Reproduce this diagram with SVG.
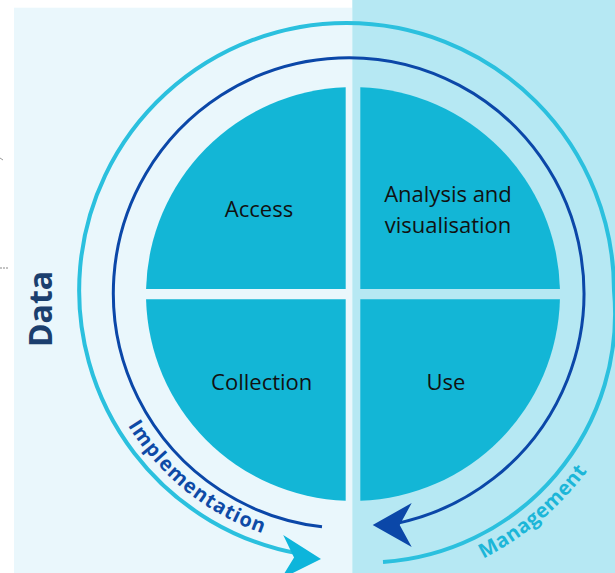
<svg xmlns="http://www.w3.org/2000/svg" width="615" height="573" viewBox="0 0 615 573">
<style>
.q{fill:#13B6D6}
.lbl{font-family:"Open Sans","Noto Sans","Liberation Sans",sans-serif;font-size:22px;fill:#111;text-anchor:middle}
.arc{font-family:"Open Sans","Noto Sans","Liberation Sans",sans-serif;font-size:20px;font-weight:bold}
.ring{fill:none}
</style>
<defs>
<path id="impPath" d="M105,378.4 A257,257 0 0 0 324.1,546.5"/>
<path id="mgmtPath" d="M424.4,581.2 A301,301 0 0 0 619.3,417.7"/>
<path id="arrowHead" d="M0,0 L-39,-22 L-27,0 L-39,22 Z"/>
</defs>
<rect x="0" y="0" width="615" height="573" fill="#FFFFFF"/>
<rect id="panel-left" x="14" y="7.7" width="338.3" height="565.3" fill="#EAF7FC"/>
<rect id="panel-right" x="352.3" y="0" width="262.7" height="573" fill="#B6E8F3"/>
<line x1="0" y1="268" x2="9" y2="268" stroke="#888" stroke-width="1" stroke-dasharray="2 1"/>
<line x1="0" y1="158" x2="3" y2="160" stroke="#999" stroke-width="1"/>
<g id="connectors">
<path class="ring" d="M300,553.9 A267.5,267.5 0 0 1 346.5,23 A267.5,267.5 0 0 1 614,290.5 A249,249 0 0 1 383,562" stroke="#2BC0DE" stroke-width="4"/>
<use href="#arrowHead" transform="translate(321,559) rotate(3)" fill="#0DB5DB"/>
<path class="ring" d="M322,526.8 A235.3,235.3 0 1 1 395,523.7" stroke="#0B47A8" stroke-width="3"/>
<use href="#arrowHead" transform="translate(372.7,525) rotate(180)" fill="#0B47A8"/>
</g>
<g id="node-access">
<path class="q" d="M345.7,289 V87.13 A207,207 0 0 0 146.06,289 Z"/>
<text class="lbl" x="259" y="216.7">Access</text>
</g>
<g id="node-analysis">
<path class="q" d="M360.3,289 H559.94 A207,207 0 0 0 360.3,87.13 Z"/>
<text class="lbl" x="448" y="201.7">Analysis and</text>
<text class="lbl" x="448" y="232.7">visualisation</text>
</g>
<g id="node-collection">
<path class="q" d="M345.7,299.3 H146.07 A207,207 0 0 0 345.7,500.87 Z"/>
<text class="lbl" x="261.7" y="390">Collection</text>
</g>
<g id="node-use">
<path class="q" d="M360.3,299.3 V500.87 A207,207 0 0 0 559.93,299.3 Z"/>
<text class="lbl" x="446" y="390">Use</text>
</g>
<g id="label-data">
<text transform="translate(51.7,309) rotate(-90)" font-family="'Open Sans','Noto Sans','Liberation Sans',sans-serif" font-size="32" font-weight="bold" fill="#1B3F6E" text-anchor="middle">Data</text>
</g>
<g id="label-implementation">
<text class="arc" fill="#0E4AA6" text-anchor="middle" letter-spacing="1"><textPath href="#impPath" startOffset="140.8">Implementation</textPath></text>
</g>
<g id="label-management">
<text class="arc" fill="#1CB6D8" text-anchor="middle" letter-spacing="0.5"><textPath href="#mgmtPath" startOffset="131.9">Management</textPath></text>
</g>
</svg>
